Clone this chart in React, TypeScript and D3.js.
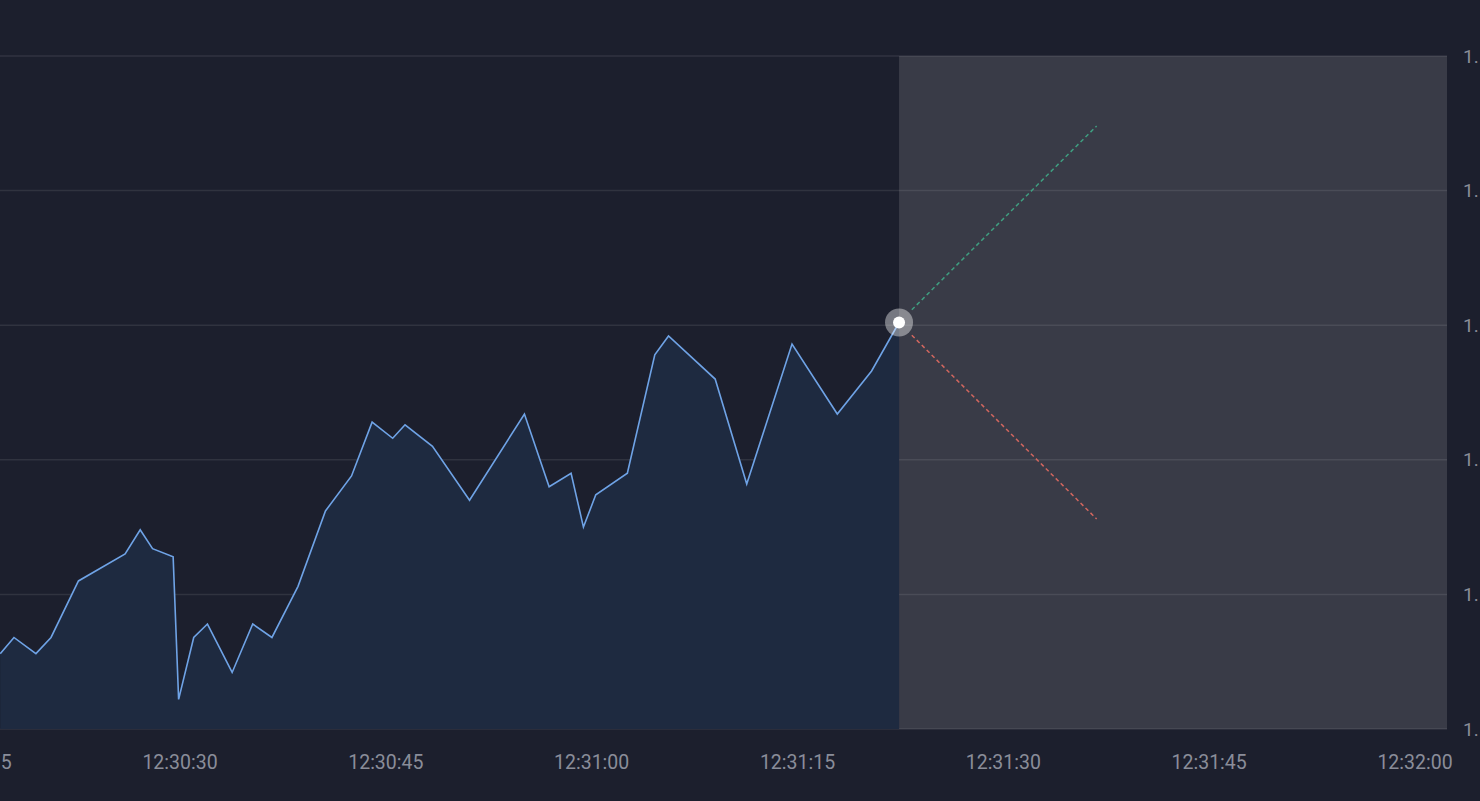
import * as d3 from 'd3';
import React, { useEffect, useRef } from 'react';

// seconds after 12:30:00
const tickSeconds = [
  16.9, 17.9, 19.5, 20.6, 22.6, 26.0, 27.1, 28.0, 29.5, 29.9, 31.0, 32.0, 33.8,
  35.3, 36.7, 38.6, 40.6, 42.5, 44.0, 45.5, 46.4, 48.4, 51.1, 55.1, 56.9, 58.5,
  59.4, 60.3, 62.6, 64.6, 65.6, 69.0, 71.3, 74.6, 77.9, 80.4, 82.4,
];
const priceValues = [
  1.08528, 1.08534, 1.08528, 1.08534, 1.08555, 1.08565, 1.08574, 1.08567,
  1.08564, 1.08511, 1.08534, 1.08539, 1.08521, 1.08539, 1.08534, 1.08553,
  1.08581, 1.08594, 1.08614, 1.08608, 1.08613, 1.08605, 1.08585, 1.08617,
  1.0859, 1.08595, 1.08575, 1.08587, 1.08595, 1.08639, 1.08646, 1.0863,
  1.08591, 1.08643, 1.08617, 1.08633, 1.08651,
];
const yTicks = [1.085, 1.0855, 1.086, 1.0865, 1.087, 1.0875];
const forecastEndSecond = 96.8;
const forecastUp = 1.08724;
const forecastDown = 1.08578;

const width = 1480;
const height = 801;
const plot = { top: 56, bottom: 729, right: 1447 };
const base = new Date(2024, 0, 1, 12, 30, 0).getTime();
const toDate = (s: number) => new Date(base + s * 1000);

const App: React.FC = () => {
  const svgRef = useRef<SVGSVGElement>(null);
  useEffect(() => {
    if (!svgRef.current) return;
    const svg = d3.select(svgRef.current);
    svg.selectAll('*').remove();

    const x = d3
      .scaleTime()
      .domain([toDate(30), toDate(120)])
      .range([180, 1415]);
    const y = d3
      .scaleLinear()
      .domain([yTicks[0], yTicks[yTicks.length - 1]])
      .range([plot.bottom, plot.top]);

    const data = tickSeconds.map((s, i) => ({ t: toDate(s), p: priceValues[i] }));
    const last = data[data.length - 1];
    const nowX = x(last.t);
    const nowY = y(last.p);

    svg.append('rect').attr('width', width).attr('height', height).attr('fill', '#1c1f2d');

    // future region
    svg
      .append('rect')
      .attr('x', nowX)
      .attr('y', plot.top)
      .attr('width', plot.right - nowX)
      .attr('height', plot.bottom - plot.top)
      .attr('fill', '#393b47');

    // grid
    svg
      .append('g')
      .selectAll('line')
      .data(yTicks)
      .enter()
      .append('line')
      .attr('x1', 0)
      .attr('x2', plot.right)
      .attr('y1', (d) => y(d))
      .attr('y2', (d) => y(d))
      .attr('stroke', '#ffffff')
      .attr('stroke-opacity', 0.09)
      .attr('stroke-width', 1.5);

    // y labels (cut off at the edge, as in the source)
    svg.append('clipPath').attr('id', 'ylab').append('rect').attr('x', 0).attr('y', 0).attr('width', 1478).attr('height', height);
    svg
      .append('g')
      .attr('clip-path', 'url(#ylab)')
      .selectAll('text')
      .data(yTicks)
      .enter()
      .append('text')
      .attr('x', 1463)
      .attr('y', (d) => y(d))
      .attr('dy', '0.35em')
      .attr('fill', '#8a8d99')
      .attr('font-family', 'Roboto, sans-serif')
      .attr('font-size', 19)
      .text((d) => d.toFixed(5));

    // area + line
    const area = d3
      .area<{ t: Date; p: number }>()
      .x((d) => x(d.t))
      .y0(plot.bottom)
      .y1((d) => y(d.p));
    const line = d3
      .line<{ t: Date; p: number }>()
      .x((d) => x(d.t))
      .y((d) => y(d.p));
    svg.append('path').datum(data).attr('d', area).attr('fill', '#1e2a40');
    svg
      .append('path')
      .datum(data)
      .attr('d', line)
      .attr('fill', 'none')
      .attr('stroke', '#6fa3e6')
      .attr('stroke-width', 1.6)
      .attr('stroke-linejoin', 'miter');

    // forecast dashes
    const endX = x(toDate(forecastEndSecond));
    const drawDash = (p: number, color: string) => {
      const ex = endX;
      const ey = y(p);
      const len = Math.hypot(ex - nowX, ey - nowY);
      const k = 18 / len;
      svg
        .append('line')
        .attr('x1', nowX + (ex - nowX) * k)
        .attr('y1', nowY + (ey - nowY) * k)
        .attr('x2', ex)
        .attr('y2', ey)
        .attr('stroke', color)
        .attr('stroke-width', 1.5)
        .attr('stroke-dasharray', '4,3');
    };
    drawDash(forecastUp, '#3f9e80');
    drawDash(forecastDown, '#d2675f');

    // marker
    svg.append('circle').attr('cx', nowX).attr('cy', nowY).attr('r', 14).attr('fill', '#ffffff').attr('fill-opacity', 0.4);
    svg.append('circle').attr('cx', nowX).attr('cy', nowY).attr('r', 6).attr('fill', '#ffffff');

    // x axis labels
    const xTicks = x.ticks(d3.timeSecond.every(15)!);
    const fmt = d3.timeFormat('%H:%M:%S');
    svg
      .append('g')
      .selectAll('text')
      .data([toDate(15), ...xTicks])
      .enter()
      .append('text')
      .attr('x', (d) => x(d))
      .attr('y', 769)
      .attr('text-anchor', 'middle')
      .attr('fill', '#8a8d99')
      .attr('font-family', 'Roboto, sans-serif')
      .attr('font-size', 19.5)
      .text((d) => fmt(d));
  }, []);
  return (
    <div style={{ position: 'fixed', left: 0, top: 0 }}>
      <svg ref={svgRef} width={width} height={height} style={{ display: 'block' }} />
    </div>
  );
};

export default App;
